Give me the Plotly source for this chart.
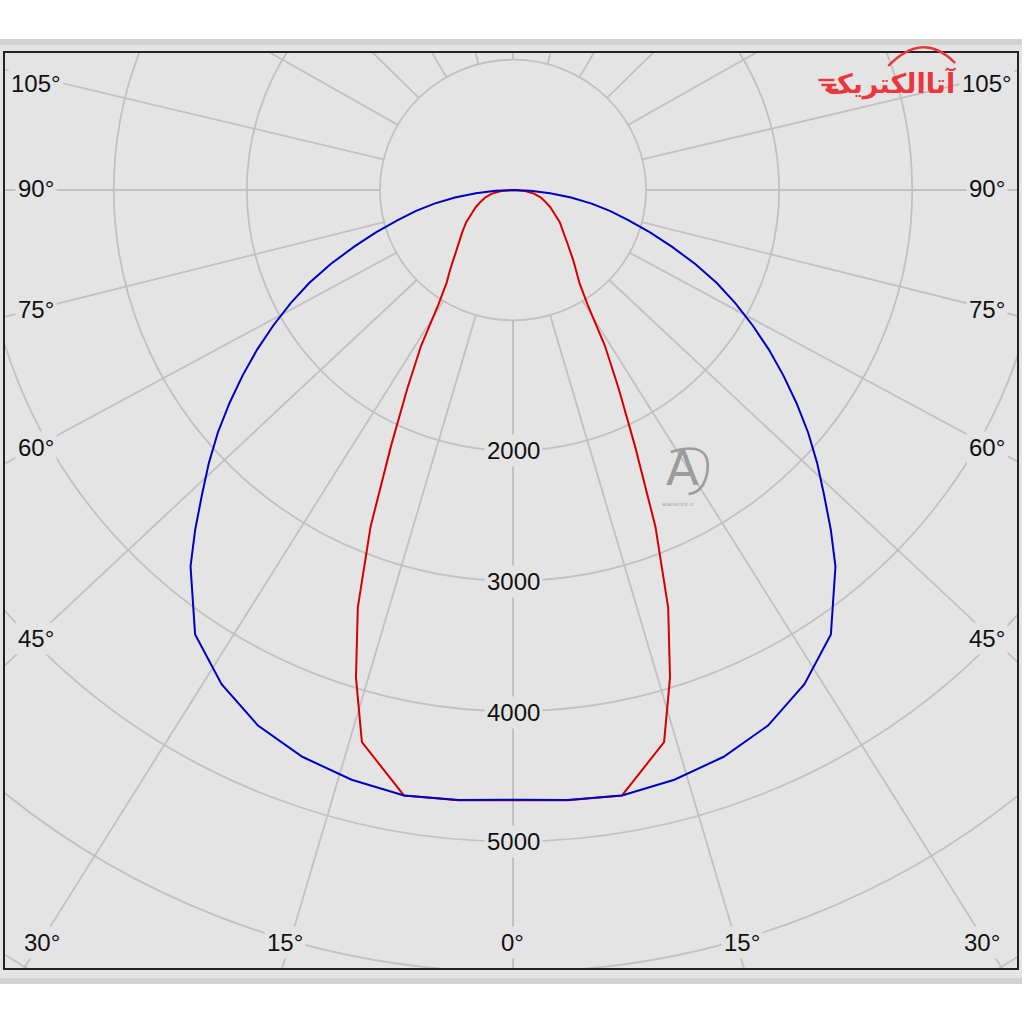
import numpy as np
import plotly.graph_objects as go

# ---------------- data (luminous intensity, cd) ----------------
# C90-C270 plane (blue)
blue_angles = [0, 5, 10, 15, 20, 25, 30, 35, 40, 42.5, 45, 47.5, 50, 52.5, 55, 57.5,
               60, 62.5, 65, 67.5, 70, 72.5, 75, 77.5, 80, 82.5, 85, 87.5, 90]
blue_values = [4680, 4700, 4718, 4686, 4629, 4535, 4380, 4165, 3770, 3535, 3305, 3100,
               2895, 2685, 2480, 2280, 2080, 1885, 1690, 1480, 1270, 1080, 900, 750,
               600, 440, 280, 130, 0]

# C0-C180 plane (red)
red_angles = [0, 5, 10, 15, 17.5, 20, 22.5, 25, 27.5, 30, 32.5, 35, 37.5, 40, 45, 50,
              55, 60, 65, 70, 75, 80, 85, 90]
red_values = [4682, 4702, 4718, 4387, 3924, 3410, 2797, 2171, 1722, 1383, 1045, 870,
              779, 705, 578, 495, 428, 357, 308, 256, 215, 160, 90, 0]

radial_ticks = [2000, 3000, 4000, 5000]
grid_radii = [1000, 2000, 3000, 4000, 5000, 6000, 7000, 8000]
spoke_labels_deg = [0, 15, 30, 45, 60, 75, 90, 105, 120, 135, 150, 165, 180]
side_labels = ["105°", "90°", "75°", "60°", "45°"]
bottom_labels = ["30°", "15°", "0°", "15°", "30°"]

# ---------------- geometry / style ----------------
W, H = 1024, 1024
CX, CY = 514, 190          # pixel position of the pole
SX, SY = 0.13333, 0.1303   # pixels per cd (horizontal, vertical)
FL, FR, FT, FB = 5, 1019, 53, 968   # frame edges in pixels

# drawn direction of each spoke (as it appears in the source diagram)
spoke_draw = [0, 16.2, 31.6, 46.3, 61.2, 75.7, 90, 103.6, 120, 135, 150, 165, 180]

side_label_py = [83, 188, 309, 447, 638]
side_label_px_left = 36
side_label_px_right = 989
bottom_label_px = [42, 286, 513, 743, 984]
bottom_label_py = 942
tick_label_py = [450, 581, 712, 841]

BG = "#e4e4e4"
GRID = "#c1c1c1"
FONT = "Liberation Sans"
LOGO = "#e8383d"
WM = "#9c9c9c"


def px2x(px):
    return (px - CX) / SX


def py2y(py):
    return -(py - CY) / SY


def to_xy(angles, values):
    a = np.radians(np.array(angles, dtype=float))
    r = np.array(values, dtype=float)
    xl = -r[::-1] * np.sin(a[::-1])
    yl = -r[::-1] * np.cos(a[::-1])
    xr = r[1:] * np.sin(a[1:])
    yr = -r[1:] * np.cos(a[1:])
    return np.concatenate([xl, xr]), np.concatenate([yl, yr])


fig = go.Figure()

rx, ry = to_xy(red_angles, red_values)
fig.add_trace(go.Scatter(x=rx, y=ry, mode="lines",
                         line=dict(color="#d40000", width=2), hoverinfo="skip",
                         showlegend=False))
bx, by = to_xy(blue_angles, blue_values)
fig.add_trace(go.Scatter(x=bx, y=by, mode="lines",
                         line=dict(color="#0000c0", width=2), hoverinfo="skip",
                         showlegend=False))

shapes = []


def pyp(py):
    return (FB - py) / (FB - FT)


def pxp(px):
    return (px - FL) / (FR - FL)


def paper_pt(px, py):
    return f"{pxp(px):.5f},{pyp(py):.5f}"


# outer panel bands
shapes.append(dict(type="rect", xref="paper", yref="paper", x0=pxp(0), x1=pxp(W),
                   y0=pyp(978), y1=pyp(45), fillcolor=BG, line=dict(width=0), layer="below"))
shapes.append(dict(type="rect", xref="paper", yref="paper", x0=pxp(0), x1=pxp(W),
                   y0=pyp(45), y1=pyp(39), fillcolor="#d2d2d2", line=dict(width=0), layer="below"))
shapes.append(dict(type="rect", xref="paper", yref="paper", x0=pxp(0), x1=pxp(W),
                   y0=pyp(984), y1=pyp(978), fillcolor="#d2d2d2", line=dict(width=0), layer="below"))

# grid circles
for r in grid_radii:
    shapes.append(dict(type="circle", xref="x", yref="y", x0=-r, x1=r, y0=-r, y1=r,
                       line=dict(color=GRID, width=1.8), layer="below"))
# spokes (from the 1000 cd circle outwards), both sides
for a in spoke_draw:
    for s in (-1, 1):
        t = np.radians(a)
        shapes.append(dict(type="line", xref="x", yref="y",
                           x0=s * 1000 * np.sin(t), y0=-1000 * np.cos(t),
                           x1=s * 12000 * np.sin(t), y1=-12000 * np.cos(t),
                           line=dict(color=GRID, width=1.8), layer="below"))

# logo swoosh + speed lines
shapes.append(dict(type="path", xref="paper", yref="paper",
                   path=f"M {paper_pt(890, 66)} Q {paper_pt(925, 30)} {paper_pt(957, 63)}",
                   line=dict(color=LOGO, width=2.5)))
for (xa, xb, yy) in [(820, 836, 80), (823, 838, 85), (827, 840, 90)]:
    shapes.append(dict(type="line", xref="paper", yref="paper",
                       x0=pxp(xa), x1=pxp(xb), y0=pyp(yy), y1=pyp(yy),
                       line=dict(color=LOGO, width=2.5)))

# watermark ring
shapes.append(dict(type="path", xref="paper", yref="paper",
                   path=(f"M {paper_pt(672, 452)} Q {paper_pt(712, 440)} {paper_pt(709, 470)}"
                         f" Q {paper_pt(706, 492)} {paper_pt(690, 494)}"),
                   line=dict(color=WM, width=2.5)))

fig.update_layout(shapes=shapes)

ann = []
lab_font = dict(family=FONT, size=24, color="#111111")
for txt, py in zip(side_labels, side_label_py):
    for px in (side_label_px_left, side_label_px_right):
        ann.append(dict(x=px2x(px), y=py2y(py), xref="x", yref="y", text=txt,
                        showarrow=False, font=lab_font, bgcolor=BG, borderpad=2))
for txt, px in zip(bottom_labels, bottom_label_px):
    ann.append(dict(x=px2x(px), y=py2y(bottom_label_py), xref="x", yref="y", text=txt,
                    showarrow=False, font=lab_font, bgcolor=BG, borderpad=2))
for v, py in zip(radial_ticks, tick_label_py):
    ann.append(dict(x=0, y=py2y(py), xref="x", yref="y", text=str(v),
                    showarrow=False, font=lab_font, bgcolor=BG, borderpad=2))

# logo text (right-to-left script)
ann.append(dict(x=pxp(826), y=pyp(66), xref="paper", yref="paper", xanchor="left",
                text="<b>آتاالکتریک</b>", showarrow=False, borderpad=0,
                font=dict(family="DejaVu Sans", size=27, color=LOGO)))
# watermark
ann.append(dict(x=px2x(684), y=py2y(468), xref="x", yref="y", text="A",
                showarrow=False, font=dict(family="DejaVu Sans", size=48, color=WM)))
ann.append(dict(x=px2x(680), y=py2y(504), xref="x", yref="y", text="ataelectric.ir",
                showarrow=False, font=dict(family="DejaVu Sans", size=5, color=WM)))

fig.update_layout(annotations=ann)

axis_common = dict(showgrid=False, zeroline=False, showticklabels=False, ticks="",
                   showline=True, mirror=True, linecolor="#222222", linewidth=1.5,
                   fixedrange=True)
fig.update_xaxes(range=[px2x(FL), px2x(FR)], **axis_common)
fig.update_yaxes(range=[py2y(FB), py2y(FT)], **axis_common)

fig.update_layout(width=W, height=H,
                  margin=dict(l=FL, r=W - FR, t=FT, b=H - FB, pad=0),
                  paper_bgcolor="white", plot_bgcolor=BG, showlegend=False)

fig.write_html("out.html", config={"displayModeBar": False},
               post_script="document.body.style.margin='0px';")
